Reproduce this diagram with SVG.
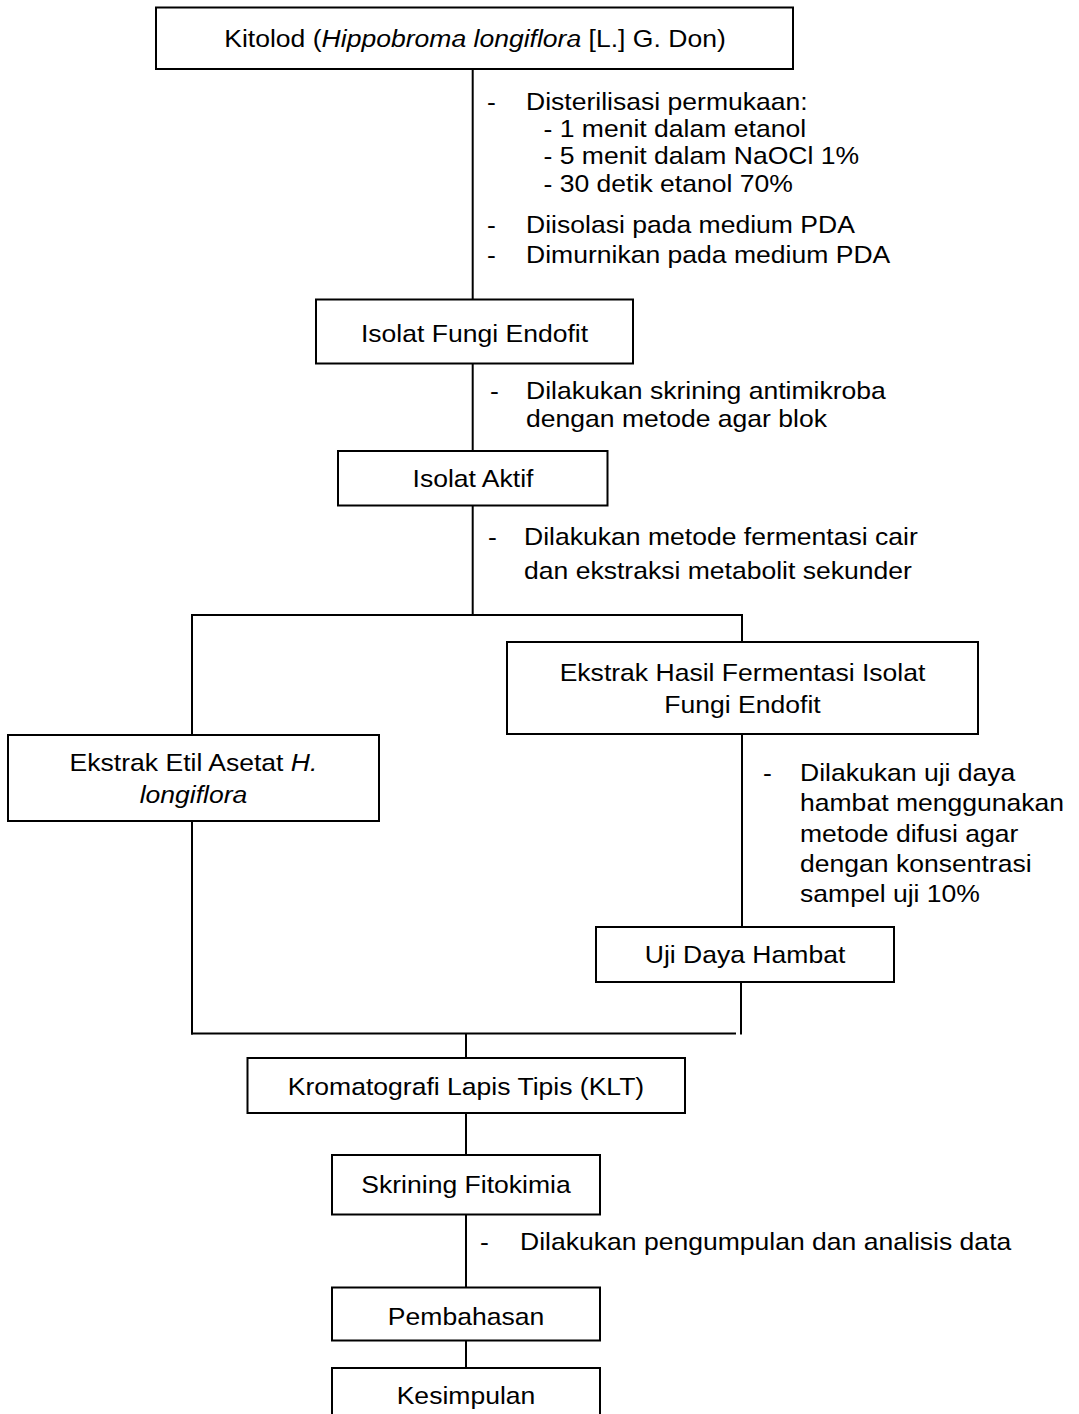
<svg xmlns="http://www.w3.org/2000/svg" width="1079" height="1414" viewBox="0 0 1079 1414">
<style>
.box{fill:#fff;stroke:#000;stroke-width:2}
.c{stroke:#000;stroke-width:2;fill:none}
.t{font-family:"Liberation Sans",Arial,sans-serif;font-size:24px;fill:#000}
.m{text-anchor:middle}
</style>
<rect width="1079" height="1414" fill="#fff"/>
<g id="connectors">
<line class="c" x1="472.7" y1="69" x2="472.7" y2="299.5"/>
<line class="c" x1="472.7" y1="363.5" x2="472.7" y2="451"/>
<line class="c" x1="472.7" y1="505.5" x2="472.7" y2="615"/>
<line class="c" x1="191" y1="615" x2="743" y2="615"/>
<line class="c" x1="192" y1="615" x2="192" y2="735"/>
<line class="c" x1="742" y1="615" x2="742" y2="642"/>
<line class="c" x1="742" y1="734" x2="742" y2="927"/>
<line class="c" x1="192" y1="821" x2="192" y2="1034.5"/>
<line class="c" x1="741" y1="982" x2="741" y2="1034.5"/>
<line class="c" x1="191" y1="1033.5" x2="736" y2="1033.5"/>
<line class="c" x1="466" y1="1033.5" x2="466" y2="1058"/>
<line class="c" x1="466" y1="1113" x2="466" y2="1155"/>
<line class="c" x1="466" y1="1214.5" x2="466" y2="1287.5"/>
<line class="c" x1="466" y1="1340.5" x2="466" y2="1368"/>
</g>
<g id="n1"><rect class="box" x="156" y="7.5" width="637" height="61.5"/>
<text class="t m" transform="translate(475 47) scale(1.106 1)">Kitolod (<tspan font-style="italic">Hippobroma longiflora</tspan> [L.] G. Don)</text></g>
<g id="n2"><rect class="box" x="316" y="299.5" width="317" height="64"/>
<text class="t m" transform="translate(474.5 341.5) scale(1.106 1)">Isolat Fungi Endofit</text></g>
<g id="n3"><rect class="box" x="338" y="451" width="269.5" height="54.5"/>
<text class="t m" transform="translate(473 487) scale(1.106 1)">Isolat Aktif</text></g>
<g id="n4"><rect class="box" x="507" y="642" width="471" height="92"/>
<text class="t m" transform="translate(742.5 681) scale(1.106 1)">Ekstrak Hasil Fermentasi Isolat</text>
<text class="t m" transform="translate(742.5 713) scale(1.106 1)">Fungi Endofit</text></g>
<g id="n5"><rect class="box" x="8" y="735" width="371" height="86"/>
<text class="t m" transform="translate(193.5 771) scale(1.106 1)">Ekstrak Etil Asetat <tspan font-style="italic">H.</tspan></text>
<text class="t m" transform="translate(193.5 803) scale(1.106 1)" font-style="italic">longiflora</text></g>
<g id="n6"><rect class="box" x="596" y="927" width="298" height="55"/>
<text class="t m" transform="translate(745 963) scale(1.106 1)">Uji Daya Hambat</text></g>
<g id="n7"><rect class="box" x="247.5" y="1058" width="437.5" height="55"/>
<text class="t m" transform="translate(466 1095) scale(1.106 1)">Kromatografi Lapis Tipis (KLT)</text></g>
<g id="n8"><rect class="box" x="332" y="1155" width="268" height="59.5"/>
<text class="t m" transform="translate(466 1192.5) scale(1.106 1)">Skrining Fitokimia</text></g>
<g id="n9"><rect class="box" x="332" y="1287.5" width="268" height="53"/>
<text class="t m" transform="translate(466 1325) scale(1.106 1)">Pembahasan</text></g>
<g id="n10"><rect class="box" x="332" y="1368" width="268" height="80"/>
<text class="t m" transform="translate(466 1404) scale(1.106 1)">Kesimpulan</text></g>
<g id="labels">
<text class="t" transform="translate(487 109.5) scale(1.106 1)">-</text>
<text class="t" transform="translate(526 109.5) scale(1.106 1)">Disterilisasi permukaan:</text>
<text class="t" transform="translate(543.5 136.5) scale(1.106 1)">- 1 menit dalam etanol</text>
<text class="t" transform="translate(543.5 164) scale(1.106 1)">- 5 menit dalam NaOCl 1%</text>
<text class="t" transform="translate(543.5 191.5) scale(1.106 1)">- 30 detik etanol 70%</text>
<text class="t" transform="translate(487 232.5) scale(1.106 1)">-</text>
<text class="t" transform="translate(526 232.5) scale(1.106 1)">Diisolasi pada medium PDA</text>
<text class="t" transform="translate(487 262.5) scale(1.106 1)">-</text>
<text class="t" transform="translate(526 262.5) scale(1.106 1)">Dimurnikan pada medium PDA</text>
<text class="t" transform="translate(490 399) scale(1.106 1)">-</text>
<text class="t" transform="translate(526 399) scale(1.106 1)">Dilakukan skrining antimikroba</text>
<text class="t" transform="translate(526 427) scale(1.106 1)">dengan metode agar blok</text>
<text class="t" transform="translate(488 545) scale(1.106 1)">-</text>
<text class="t" transform="translate(524 545) scale(1.106 1)">Dilakukan metode fermentasi cair</text>
<text class="t" transform="translate(524 579) scale(1.106 1)">dan ekstraksi metabolit sekunder</text>
<text class="t" transform="translate(763 781) scale(1.106 1)">-</text>
<text class="t" transform="translate(800 781) scale(1.106 1)">Dilakukan uji daya</text>
<text class="t" transform="translate(800 811) scale(1.106 1)">hambat menggunakan</text>
<text class="t" transform="translate(800 841.5) scale(1.106 1)">metode difusi agar</text>
<text class="t" transform="translate(800 872) scale(1.106 1)">dengan konsentrasi</text>
<text class="t" transform="translate(800 902) scale(1.106 1)">sampel uji 10%</text>
<text class="t" transform="translate(480 1250) scale(1.106 1)">-</text>
<text class="t" transform="translate(520 1250) scale(1.106 1)">Dilakukan pengumpulan dan analisis data</text>
</g>
</svg>
